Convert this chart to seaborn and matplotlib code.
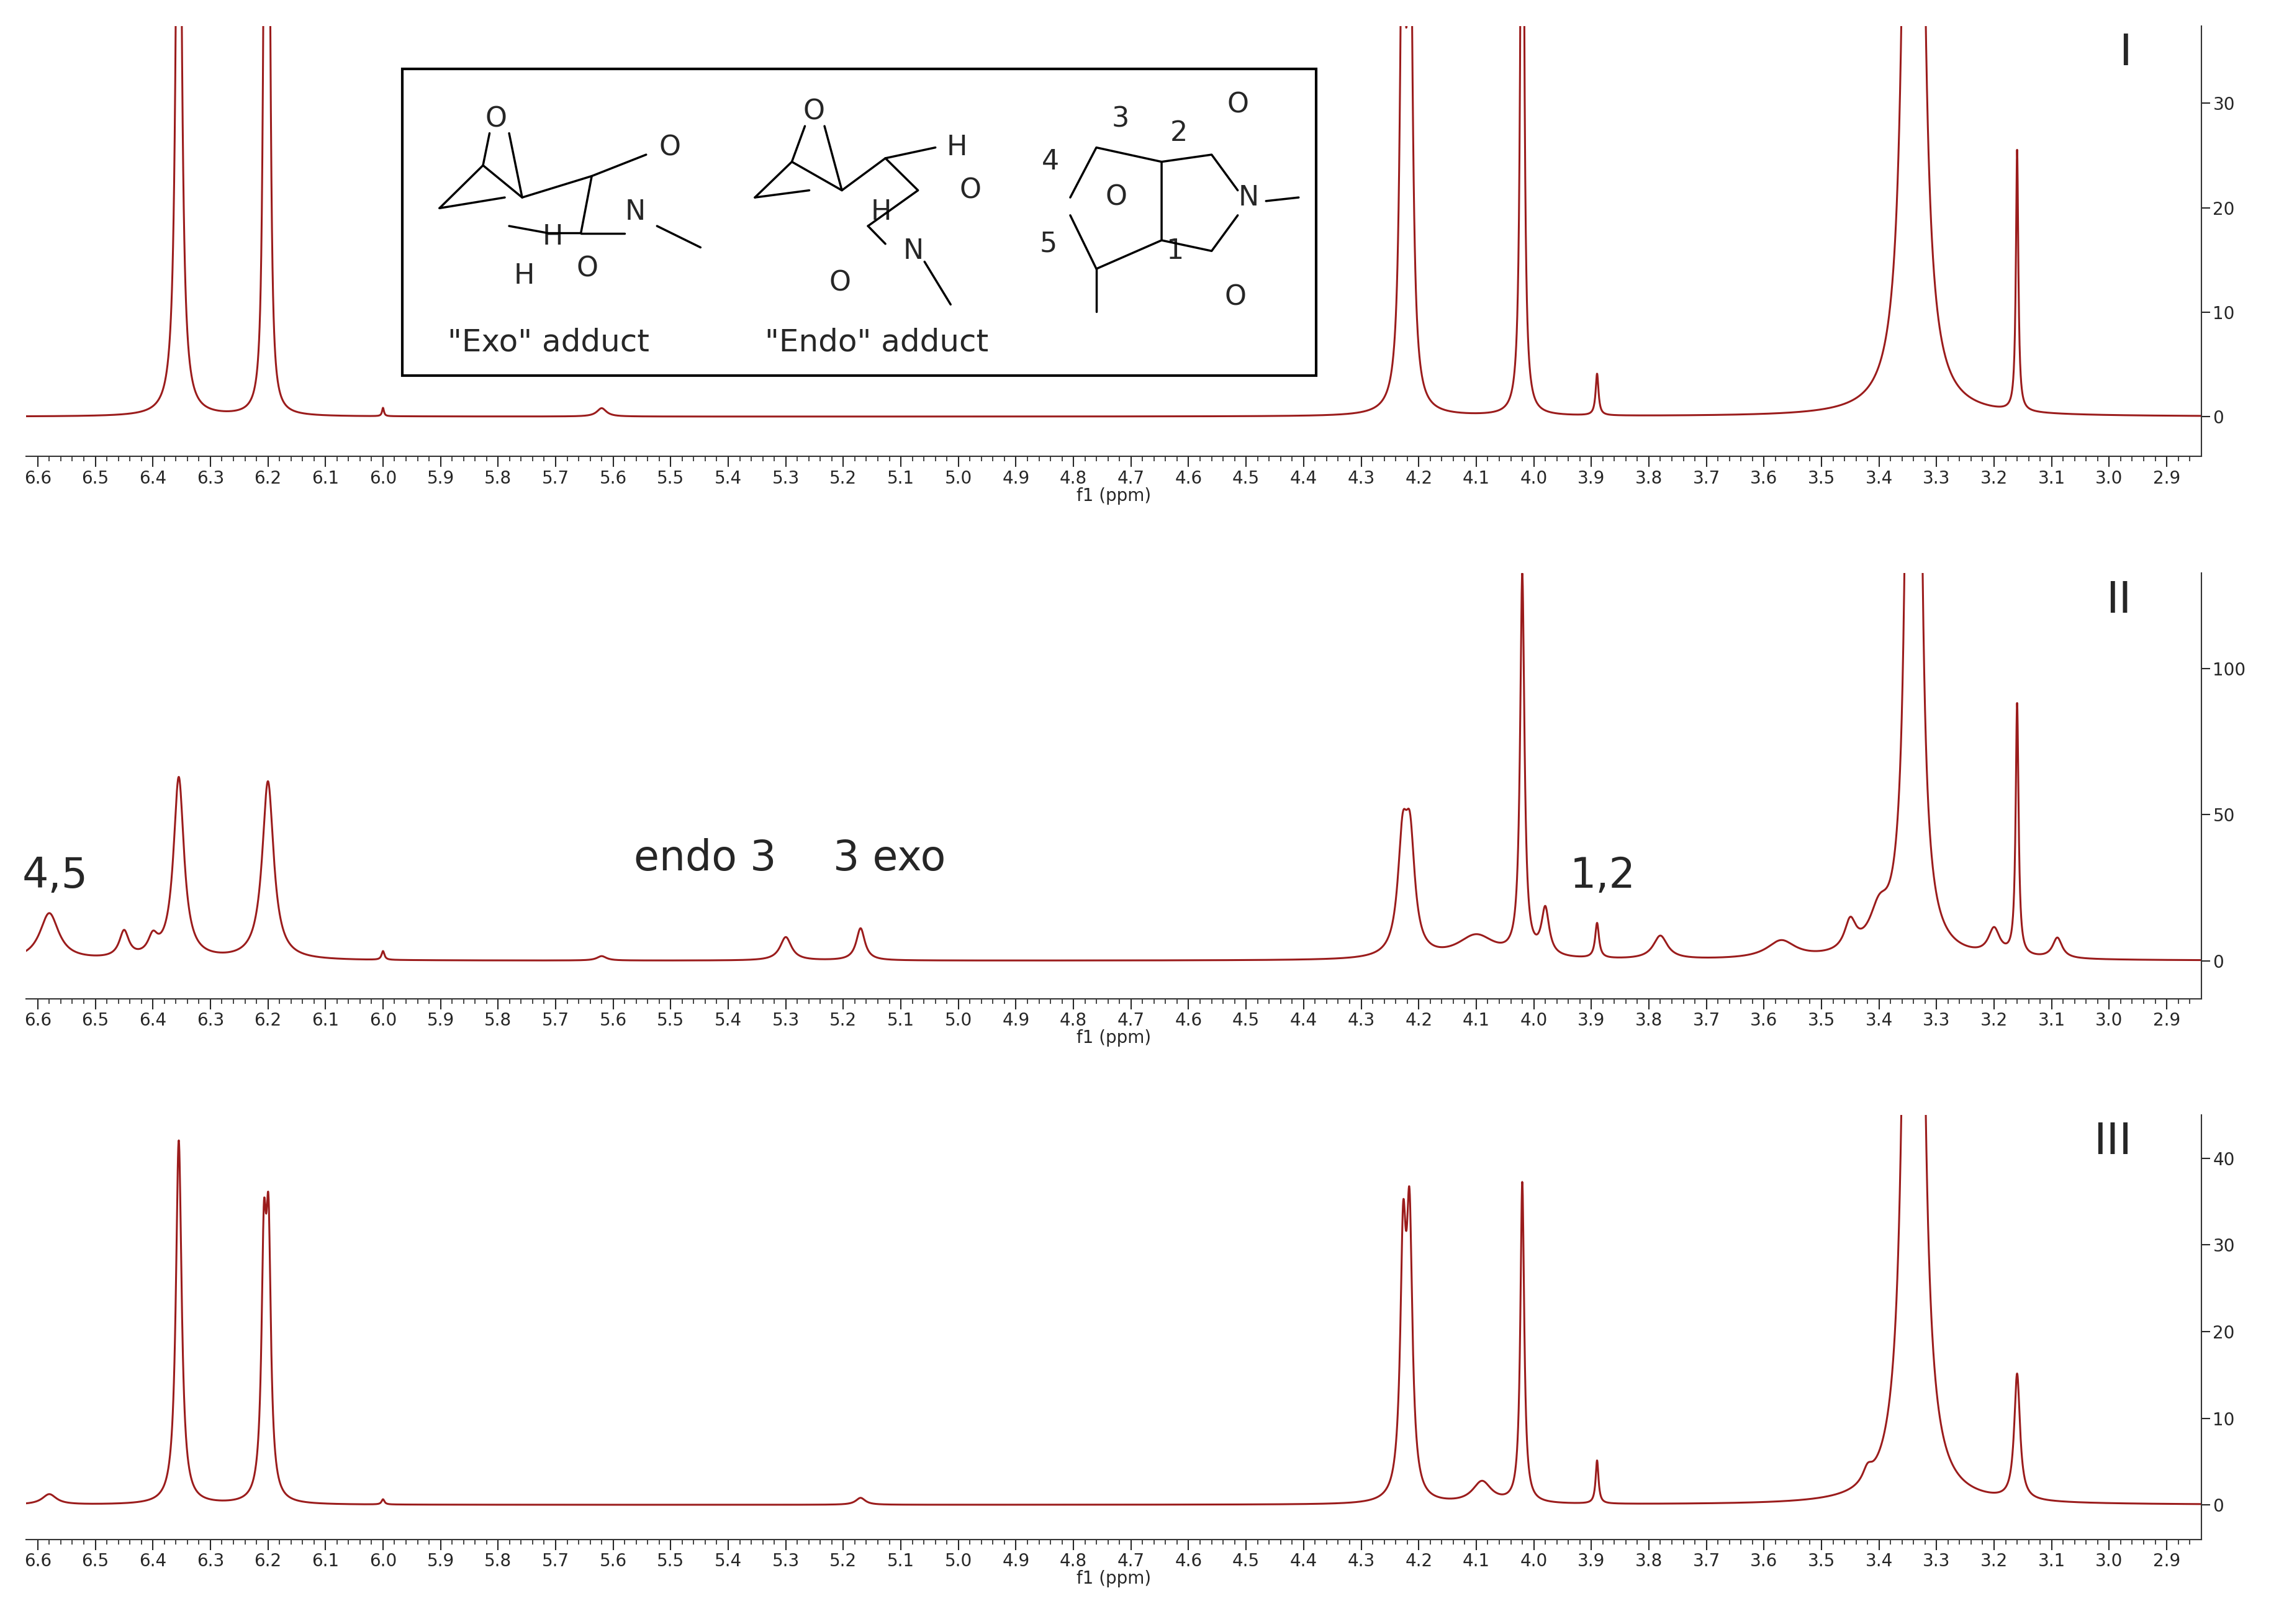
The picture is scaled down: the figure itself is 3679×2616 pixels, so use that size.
import numpy as np
import pandas as pd
import matplotlib
matplotlib.use("Agg")
import matplotlib.pyplot as plt
import seaborn as sns
from matplotlib.patches import Rectangle

sns.set_style("white")
plt.rcParams['font.family'] = ['DejaVu Sans']

# Peak lists (ppm, height, half-width)
p1_pos = [6.355, 6.198, 6.206, 4.228, 4.215, 4.020, 3.890, 3.340, 3.160, 5.62, 6.00]
p1_hgt = [80, 45, 45, 50, 50, 90, 4.0, 1000, 25, 0.8, 0.8]
p1_wid = [0.005, 0.0035, 0.0035, 0.005, 0.005, 0.003, 0.003, 0.0042, 0.0025, 0.01, 0.002]

p2_pos = [6.58, 6.45, 6.40, 6.355, 6.200, 6.00, 5.62, 5.300, 5.170, 4.228, 4.215, 4.10,
          4.020, 3.980, 3.890, 3.780, 3.57, 3.45, 3.40, 3.340, 3.20, 3.160, 3.09]
p2_hgt = [16, 9, 6, 62, 61, 3, 1.5, 8, 11, 36, 36, 8, 130, 16, 12, 8, 6, 10, 12, 2000, 9, 86, 7]
p2_wid = [0.02, 0.01, 0.01, 0.011, 0.012, 0.003, 0.01, 0.012, 0.009, 0.01, 0.01, 0.04,
          0.0045, 0.008, 0.004, 0.015, 0.03, 0.012, 0.02, 0.0042, 0.012, 0.003, 0.01]

p3_pos = [6.58, 6.355, 6.199, 6.207, 4.227, 4.216, 4.090, 4.020, 3.890, 3.420, 3.340, 3.160, 5.17, 6.00]
p3_hgt = [1.2, 42, 28, 27, 28, 30, 2.5, 37, 5, 1.5, 1200, 14.5, 0.8, 0.6]
p3_wid = [0.015, 0.006, 0.005, 0.005, 0.006, 0.006, 0.02, 0.004, 0.003, 0.01, 0.0042, 0.006, 0.01, 0.003]

x_ticks = [round(6.6 - 0.1 * i, 1) for i in range(38)]
panels = [("I", p1_pos, p1_hgt, p1_wid, (-3.8, 37.4), [0, 10, 20, 30]),
          ("II", p2_pos, p2_hgt, p2_wid, (-13, 132.5), [0, 50, 100]),
          ("III", p3_pos, p3_hgt, p3_wid, (-4, 45), [0, 10, 20, 30, 40])]

color = "#9b1c1c"
fig = plt.figure(figsize=(36.8, 26.16), dpi=100)
boxes = [(0.0115, 0.719), (0.0115, 0.385), (0.0115, 0.052)]
heights = [0.265, 0.262, 0.2615]
x = np.linspace(6.64, 2.82, 8000)

def my(v):
    return 0.187 + (v - 0.10) * (0.713 / 0.86)

for (name, pos, hgt, wid, ylim, yt), (l, b), h in zip(panels, boxes, heights):
    ax = fig.add_axes([l, b, 0.952, h])
    y = np.zeros_like(x)
    for p0, h0, w0 in zip(pos, hgt, wid):
        y += h0 / (1 + ((x - p0) / w0) ** 2)
    df = pd.DataFrame({"ppm": x, "int": y})
    sns.lineplot(data=df, x="ppm", y="int", ax=ax, color=color, lw=2.2, sort=False)
    ax.set_xlim(6.62, 2.84)
    ax.set_ylim(*ylim)
    ax.set_xticks(x_ticks)
    ax.set_xticklabels([f"{t:.1f}" for t in x_ticks], fontsize=20)
    ax.set_xticks(np.arange(2.86, 6.62, 0.02), minor=True)
    ax.yaxis.tick_right()
    ax.set_yticks(yt)
    ax.set_yticklabels([str(v) for v in yt], fontsize=20)
    ax.set_ylabel("")
    ax.set_xlabel("f1 (ppm)", fontsize=20, labelpad=0)
    for s in ["top", "left"]:
        ax.spines[s].set_visible(False)
    for s in ["bottom", "right"]:
        ax.spines[s].set_linewidth(1.5)
        ax.spines[s].set_color("#333333")
    ax.tick_params(axis="x", which="major", length=12, width=1.5, direction="out", bottom=True)
    ax.tick_params(axis="x", which="minor", length=6, width=1.2, direction="out", bottom=True)
    ax.tick_params(axis="y", length=10, width=1.5, direction="out", right=True)
    ax.text(0.968, 0.985, name, transform=ax.transAxes, fontsize=50, ha="right", va="top")
    if name == "II":
        for t, px, py in [("4,5", 6.57, 22), ("endo 3", 5.44, 28), ("3 exo", 5.12, 28), ("1,2", 3.88, 22)]:
            ax.text(px, py, t, fontsize=48, ha="center", va="bottom")
    if name == "I":
        T = ax.transAxes
        ax.add_patch(Rectangle((0.173, 0.187), 0.42, 0.713, transform=T, facecolor="white",
                               edgecolor="black", lw=3, zorder=5))
        ax.text(0.240, my(0.17), '"Exo" adduct', transform=T, fontsize=36, ha="center", zorder=6)
        ax.text(0.391, my(0.17), '"Endo" adduct', transform=T, fontsize=36, ha="center", zorder=6)
        lab = [("O", 0.216, 0.82), ("O", 0.296, 0.74), ("N", 0.280, 0.56), ("O", 0.258, 0.40), ("H", 0.242, 0.49), ("H", 0.229, 0.38),
               ("O", 0.362, 0.84), ("H", 0.428, 0.74), ("O", 0.434, 0.62), ("N", 0.408, 0.45), ("O", 0.374, 0.36), ("H", 0.393, 0.56),
               ("3", 0.503, 0.82), ("2", 0.530, 0.78), ("4", 0.471, 0.70), ("O", 0.501, 0.60), ("N", 0.562, 0.60), ("O", 0.557, 0.86),
               ("5", 0.470, 0.47), ("1", 0.528, 0.45), ("O", 0.556, 0.32)]
        for t, px, py in lab:
            ax.text(px, my(py), t, transform=T, fontsize=32, ha="center", va="center", zorder=6)
        segs = [[(0.190, 0.57), (0.210, 0.69), (0.228, 0.60), (0.260, 0.66), (0.255, 0.50), (0.240, 0.50), (0.222, 0.52)],
                [(0.190, 0.57), (0.220, 0.60)], [(0.260, 0.66), (0.285, 0.72)], [(0.255, 0.50), (0.275, 0.50)],
                [(0.210, 0.69), (0.213, 0.78)], [(0.228, 0.60), (0.222, 0.78)], [(0.290, 0.52), (0.310, 0.46)],
                [(0.335, 0.60), (0.352, 0.70), (0.375, 0.62), (0.395, 0.71), (0.410, 0.62), (0.387, 0.52)],
                [(0.335, 0.60), (0.360, 0.62)], [(0.352, 0.70), (0.358, 0.80)], [(0.375, 0.62), (0.367, 0.80)],
                [(0.395, 0.71), (0.418, 0.74)], [(0.387, 0.52), (0.395, 0.47)], [(0.413, 0.42), (0.425, 0.30)],
                [(0.480, 0.60), (0.492, 0.74), (0.522, 0.70), (0.522, 0.48), (0.492, 0.40), (0.480, 0.55)],
                [(0.522, 0.70), (0.545, 0.72), (0.557, 0.62)], [(0.522, 0.48), (0.545, 0.45), (0.557, 0.55)],
                [(0.492, 0.40), (0.492, 0.28)], [(0.570, 0.59), (0.585, 0.60)]]
        for sg in segs:
            xs, ys = zip(*sg)
            ax.plot(xs, [my(v) for v in ys], transform=T, color="black", lw=2.5, zorder=6)

fig.savefig("out.png", dpi=100)
